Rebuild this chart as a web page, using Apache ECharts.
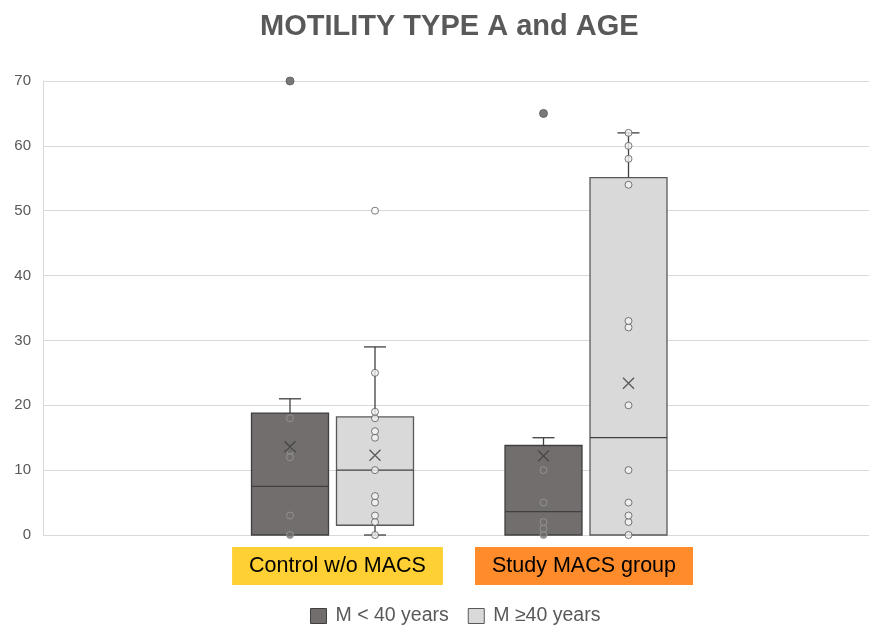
<!DOCTYPE html>
<html>
<head>
<meta charset="utf-8">
<script src="https://cdn.jsdelivr.net/npm/echarts@6/dist/echarts.min.js"></script>
<style>
  html, body { margin: 0; background: #fff; }
  #chart { width: 869px; height: 628px; }
</style>
</head>
<body>
<div id="chart"></div>
<script>
const categories = ['Control w/o MACS', 'Study MACS group']
const seriesNames = ['M < 40 years', 'M ≥40 years']

// [min, Q1, median, Q3, max] for each group
const youngBoxes = [[0, 0, 7.5, 18.8, 21], [0, 0, 3.6, 13.8, 15]]
const olderBoxes = [[0, 1.5, 10, 18.2, 29], [0, 0, 15, 55.1, 62]]
const youngMeans = [13.6, 12.2]
const olderMeans = [12.3, 23.4]
const youngPoints = [[0, 3, 12, 13, 18], [0, 1, 2, 5, 10]]
const olderPoints = [[0, 2, 3, 5, 6, 10, 15, 16, 18, 19, 25], [0, 2, 3, 5, 10, 20, 32, 33, 54, 58, 60, 62]]
const youngOutliers = [[70], [65]]
const olderOutliers = [[50], []]

const FONT = 'Liberation Sans, Arial, sans-serif'
const BOX_W = 77
const CAP_W = 22
const SHIFT = 42.5
const DARK = '#736e6e'
const LIGHT = '#d9d9d9'

const chart = echarts.init(document.getElementById('chart'))

function boxRenderer(shift, fill, stroke) {
  return (params, api) => {
    const cat = api.value(0)
    const cx = api.coord([cat, 0])[0] + shift
    const py = i => api.coord([cat, api.value(i)])[1]
    const yMin = py(1), yQ1 = py(2), yMed = py(3), yQ3 = py(4), yMax = py(5)
    const lineStyle = { stroke: '#404040', lineWidth: 1.3 }
    const children = []
    if (yMax < yQ3) {
      children.push({ type: 'line', shape: { x1: cx, y1: yQ3, x2: cx, y2: yMax }, style: lineStyle })
      children.push({ type: 'line', shape: { x1: cx - CAP_W / 2, y1: yMax, x2: cx + CAP_W / 2, y2: yMax }, style: lineStyle })
    }
    if (yMin > yQ1) {
      children.push({ type: 'line', shape: { x1: cx, y1: yQ1, x2: cx, y2: yMin }, style: lineStyle })
      children.push({ type: 'line', shape: { x1: cx - CAP_W / 2, y1: yMin, x2: cx + CAP_W / 2, y2: yMin }, style: lineStyle })
    }
    children.push({
      type: 'rect',
      shape: { x: cx - BOX_W / 2, y: yQ3, width: BOX_W, height: yQ1 - yQ3 },
      style: { fill: fill, stroke: stroke, lineWidth: 1.3 }
    })
    children.push({ type: 'line', shape: { x1: cx - BOX_W / 2, y1: yMed, x2: cx + BOX_W / 2, y2: yMed }, style: lineStyle })
    return { type: 'group', children }
  }
}

function flatten(groups) {
  const out = []
  groups.forEach((vals, i) => vals.forEach(v => out.push([i, v])))
  return out
}

const option = {
  backgroundColor: '#fff',
  title: {
    text: 'MOTILITY TYPE A and AGE',
    left: 255,
    top: 7,
    textStyle: { fontFamily: FONT, fontSize: 29, fontWeight: 'bold', color: '#595959' }
  },
  legend: {
    left: 310,
    top: 606,
    padding: 0,
    itemGap: 19,
    itemWidth: 16,
    itemHeight: 15,
    textStyle: { fontFamily: FONT, fontSize: 19.5, color: '#595959', padding: [0, 0, 0, 4] },
    data: [
      { name: seriesNames[0], icon: 'rect', itemStyle: { color: DARK, borderColor: '#404040', borderWidth: 1 } },
      { name: seriesNames[1], icon: 'rect', itemStyle: { color: LIGHT, borderColor: '#595959', borderWidth: 1 } }
    ]
  },
  grid: [
    { left: 43, right: 0, top: 81, bottom: 93 },
    { left: 205.75, right: 156.25, top: 81, bottom: 93 }
  ],
  xAxis: [
    { type: 'value', gridIndex: 0, show: false },
    {
      type: 'category',
      gridIndex: 1,
      data: categories,
      axisLine: { show: false },
      axisTick: { show: false },
      axisLabel: {
        margin: 19,
        interval: 0,
        formatter: (v, i) => i === 0 ? '{sp| }{c|' + v + '}' : '{s|' + v + '}{sp2| }',
        rich: {
          sp: { width: 10, lineHeight: 24 },
          sp2: { width: 4, lineHeight: 24 },
          c: { fontFamily: FONT, fontSize: 21.5, color: '#000', backgroundColor: '#ffd033', padding: [8, 17, 8, 17], lineHeight: 24 },
          s: { fontFamily: FONT, fontSize: 21.5, color: '#000', backgroundColor: '#ff8b2b', padding: [8, 17, 8, 17], lineHeight: 24 }
        }
      }
    }
  ],
  yAxis: [
    {
      type: 'value',
      gridIndex: 0,
      min: 0,
      max: 70,
      interval: 10,
      axisLine: { show: true, lineStyle: { color: '#d9d9d9' } },
      axisTick: { show: false },
      axisLabel: { margin: 12, fontFamily: FONT, fontSize: 15, color: '#595959' },
      splitLine: { lineStyle: { color: '#d9d9d9', width: 1 } }
    },
    { type: 'value', gridIndex: 1, min: 0, max: 70, show: false }
  ],
  series: [
    {
      name: seriesNames[0], type: 'custom', xAxisIndex: 1, yAxisIndex: 1, z: 2,
      itemStyle: { color: DARK },
      renderItem: boxRenderer(-SHIFT, DARK, '#404040'),
      encode: { x: 0, y: [1, 2, 3, 4, 5] },
      data: youngBoxes.map((b, i) => [i, ...b])
    },
    {
      name: seriesNames[1], type: 'custom', xAxisIndex: 1, yAxisIndex: 1, z: 2,
      itemStyle: { color: LIGHT },
      renderItem: boxRenderer(SHIFT, LIGHT, '#595959'),
      encode: { x: 0, y: [1, 2, 3, 4, 5] },
      data: olderBoxes.map((b, i) => [i, ...b])
    },
    {
      name: seriesNames[0], type: 'scatter', xAxisIndex: 1, yAxisIndex: 1, z: 3,
      symbol: 'circle', symbolSize: 7, symbolOffset: [-SHIFT, 0],
      itemStyle: { color: DARK, borderColor: '#9a9a9a', borderWidth: 1 },
      data: flatten(youngPoints)
    },
    {
      name: seriesNames[1], type: 'scatter', xAxisIndex: 1, yAxisIndex: 1, z: 3,
      symbol: 'circle', symbolSize: 7, symbolOffset: [SHIFT, 0],
      itemStyle: { color: '#f2f2f2', borderColor: '#595959', borderWidth: 1 },
      data: flatten(olderPoints)
    },
    {
      name: seriesNames[0], type: 'scatter', xAxisIndex: 1, yAxisIndex: 1, z: 3,
      symbol: 'circle', symbolSize: 8, symbolOffset: [-SHIFT, 0],
      itemStyle: { color: '#595959', borderColor: '#595959', borderWidth: 1 },
      data: flatten(youngOutliers)
    },
    {
      name: seriesNames[1], type: 'scatter', xAxisIndex: 1, yAxisIndex: 1, z: 3,
      symbol: 'circle', symbolSize: 7, symbolOffset: [SHIFT, 0],
      itemStyle: { color: '#ffffff', borderColor: '#595959', borderWidth: 1 },
      data: flatten(olderOutliers)
    },
    {
      name: seriesNames[0], type: 'scatter', xAxisIndex: 1, yAxisIndex: 1, z: 4,
      symbol: 'path://M0 0L10 10M10 0L0 10', symbolSize: 11, symbolOffset: [-SHIFT, 0],
      itemStyle: { color: 'none', borderColor: '#3a3a3a', borderWidth: 1.3 },
      data: youngMeans.map((v, i) => [i, v])
    },
    {
      name: seriesNames[1], type: 'scatter', xAxisIndex: 1, yAxisIndex: 1, z: 4,
      symbol: 'path://M0 0L10 10M10 0L0 10', symbolSize: 11, symbolOffset: [SHIFT, 0],
      itemStyle: { color: 'none', borderColor: '#3a3a3a', borderWidth: 1.3 },
      data: olderMeans.map((v, i) => [i, v])
    }
  ]
}

chart.setOption(option)
</script>
</body>
</html>
